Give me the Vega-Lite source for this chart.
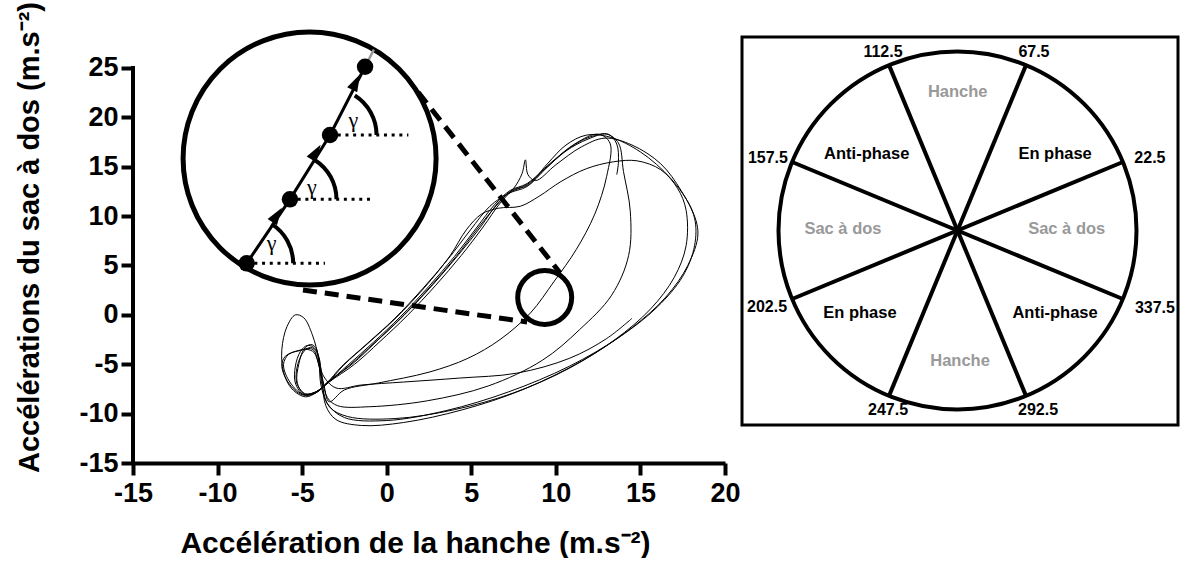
{
  "$schema": "https://vega.github.io/schema/vega-lite/v6.json",
  "padding": {"left": 15, "top": 1, "right": 0, "bottom": 0},
  "background": "white",
  "bounds": "flush",
  "spacing": 17,
  "config": {
    "view": {"stroke": null},
    "font": "Liberation Sans",
    "axis": {
      "domainColor": "black", "domainWidth": 4, "tickColor": "black", "tickWidth": 4, "tickSize": 12,
      "labelFont": "Liberation Sans", "labelFontWeight": "bold", "labelFontSize": 27, "labelColor": "black",
      "titleFont": "Liberation Sans", "titleFontWeight": "bold", "titleFontSize": 29, "titleColor": "black",
      "grid": false, "labelFlush": false, "labelOverlap": false, "labelExpr": "'' + datum.value"
    }
  },
  "datasets": {
    "traj": [
      {"i":1,"x":14.5,"y":-0.35},{"i":2,"x":13.0,"y":-2.4},{"i":3,"x":10.8,"y":-4.4},{"i":4,"x":7.7,"y":-5.9},{"i":5,"x":4.3,"y":-6.4},{"i":6,"x":1.0,"y":-6.8},{"i":7,"x":-1.5,"y":-7.1},{"i":8,"x":-3.0,"y":-7.4},
      {"i":9,"x":-3.8,"y":-6.0},{"i":10,"x":-4.0,"y":-4.3},{"i":11,"x":-4.3,"y":-3.3},{"i":12,"x":-4.7,"y":-3.1},{"i":13,"x":-5.1,"y":-3.7},{"i":14,"x":-5.4,"y":-5.2},{"i":15,"x":-5.4,"y":-6.9},{"i":16,"x":-4.9,"y":-8.1},{"i":17,"x":-4.2,"y":-7.9},
      {"i":18,"x":-3.5,"y":-6.9},{"i":19,"x":-2.3,"y":-5.1},{"i":20,"x":-0.8,"y":-2.8},{"i":21,"x":0.8,"y":-0.2},{"i":22,"x":2.5,"y":2.9},{"i":23,"x":4.0,"y":5.9},{"i":24,"x":5.3,"y":8.8},{"i":25,"x":6.4,"y":11.2},{"i":26,"x":7.3,"y":12.6},
      {"i":27,"x":8.3,"y":13.3},{"i":28,"x":9.7,"y":15.4},{"i":29,"x":11.2,"y":17.4},{"i":30,"x":12.5,"y":18.3},{"i":31,"x":13.2,"y":17.4},{"i":32,"x":13.0,"y":14.0},{"i":33,"x":12.3,"y":10.2},{"i":34,"x":11.2,"y":6.6},{"i":35,"x":9.9,"y":3.4},{"i":36,"x":8.5,"y":0.2},{"i":37,"x":6.7,"y":-2.5},{"i":38,"x":4.8,"y":-4.4},{"i":39,"x":2.5,"y":-5.8},{"i":40,"x":-0.5,"y":-6.9},{"i":41,"x":-2.5,"y":-7.6},{"i":42,"x":-3.4,"y":-8.8},
      {"i":43,"x":-3.7,"y":-7.2},{"i":44,"x":-4.0,"y":-4.5},{"i":45,"x":-4.4,"y":-2.0},{"i":46,"x":-4.9,"y":-0.3},{"i":47,"x":-5.4,"y":0.0},{"i":48,"x":-5.9,"y":-1.2},{"i":49,"x":-6.2,"y":-3.5},{"i":50,"x":-6.1,"y":-5.8},{"i":51,"x":-5.6,"y":-7.5},{"i":52,"x":-4.8,"y":-8.3},{"i":53,"x":-4.1,"y":-7.8},
      {"i":54,"x":-3.4,"y":-6.8},{"i":55,"x":-1.9,"y":-5.0},{"i":56,"x":-0.4,"y":-2.7},{"i":57,"x":1.2,"y":-0.1},{"i":58,"x":2.9,"y":3.0},{"i":59,"x":4.4,"y":6.0},{"i":60,"x":5.7,"y":8.9},{"i":61,"x":6.7,"y":11.3},{"i":62,"x":7.4,"y":12.5},
      {"i":63,"x":8.4,"y":13.2},{"i":64,"x":9.5,"y":15.3},{"i":65,"x":10.6,"y":17.2},{"i":66,"x":11.8,"y":18.2},{"i":67,"x":13.2,"y":18.0},{"i":68,"x":15.0,"y":16.5},{"i":69,"x":16.8,"y":13.8},{"i":70,"x":18.0,"y":10.8},{"i":71,"x":18.4,"y":8.2},{"i":72,"x":17.8,"y":5.0},{"i":73,"x":16.5,"y":1.8},{"i":74,"x":14.5,"y":-1.3},{"i":75,"x":11.6,"y":-4.6},{"i":76,"x":8.0,"y":-7.6},{"i":77,"x":4.5,"y":-9.6},{"i":78,"x":1.0,"y":-10.9},{"i":79,"x":-1.5,"y":-11.2},{"i":80,"x":-3.0,"y":-10.6},{"i":81,"x":-3.6,"y":-9.2},
      {"i":82,"x":-3.8,"y":-7.0},{"i":83,"x":-4.0,"y":-4.8},{"i":84,"x":-4.2,"y":-3.6},{"i":85,"x":-4.5,"y":-3.3},{"i":86,"x":-4.9,"y":-3.7},{"i":87,"x":-5.3,"y":-5.3},{"i":88,"x":-5.3,"y":-7.0},{"i":89,"x":-4.8,"y":-8.0},{"i":90,"x":-4.2,"y":-7.8},
      {"i":91,"x":-3.5,"y":-6.9},{"i":92,"x":-2.55,"y":-5.1},{"i":93,"x":-1.05,"y":-2.8},{"i":94,"x":0.55,"y":-0.3},{"i":95,"x":2.25,"y":2.8},{"i":96,"x":3.75,"y":6.0},{"i":97,"x":4.7,"y":8.6},{"i":98,"x":5.6,"y":10.2},
      {"i":99,"x":6.6,"y":10.8},{"i":100,"x":7.9,"y":11.0},{"i":101,"x":9.0,"y":12.0},{"i":102,"x":10.3,"y":13.5},{"i":103,"x":11.8,"y":14.8},{"i":104,"x":13.4,"y":15.5},{"i":105,"x":14.8,"y":15.6},{"i":106,"x":16.2,"y":14.7},{"i":107,"x":17.2,"y":12.8},{"i":108,"x":17.7,"y":10.6},{"i":109,"x":17.7,"y":7.0},{"i":110,"x":17.0,"y":3.8},{"i":111,"x":15.6,"y":0.6},{"i":112,"x":13.5,"y":-2.5},{"i":113,"x":10.8,"y":-5.4},{"i":114,"x":7.5,"y":-7.9},{"i":115,"x":4.0,"y":-9.6},{"i":116,"x":0.5,"y":-10.5},{"i":117,"x":-2.3,"y":-10.3},{"i":118,"x":-3.4,"y":-9.3},
      {"i":119,"x":-3.8,"y":-7.3},{"i":120,"x":-4.0,"y":-5.2},{"i":121,"x":-4.3,"y":-3.8},{"i":122,"x":-4.7,"y":-3.5},{"i":123,"x":-5.2,"y":-3.6},{"i":124,"x":-6.0,"y":-4.2},{"i":125,"x":-6.2,"y":-5.2},{"i":126,"x":-5.8,"y":-6.9},{"i":127,"x":-5.0,"y":-8.1},{"i":128,"x":-4.2,"y":-7.9},
      {"i":129,"x":-3.5,"y":-6.8},{"i":130,"x":-2.05,"y":-5.0},{"i":131,"x":-0.55,"y":-2.6},{"i":132,"x":1.05,"y":0.0},{"i":133,"x":2.75,"y":3.1},{"i":134,"x":4.25,"y":6.1},{"i":135,"x":5.55,"y":8.9},{"i":136,"x":6.6,"y":11.4},{"i":137,"x":7.5,"y":12.8},
      {"i":138,"x":8.0,"y":14.3},{"i":139,"x":8.2,"y":15.7},{"i":140,"x":8.35,"y":14.2},{"i":141,"x":8.8,"y":13.6},{"i":142,"x":10.0,"y":15.2},{"i":143,"x":11.5,"y":17.0},{"i":144,"x":12.9,"y":17.9},{"i":145,"x":14.5,"y":17.2},{"i":146,"x":16.2,"y":15.3},{"i":147,"x":17.4,"y":12.6},{"i":148,"x":18.2,"y":9.8},{"i":149,"x":18.2,"y":7.0},{"i":150,"x":17.5,"y":3.9},{"i":151,"x":16.0,"y":0.8},{"i":152,"x":13.8,"y":-2.2},{"i":153,"x":10.8,"y":-5.2},{"i":154,"x":7.2,"y":-7.8},{"i":155,"x":3.5,"y":-9.7},{"i":156,"x":0.0,"y":-10.7},{"i":157,"x":-2.5,"y":-10.4},{"i":158,"x":-3.5,"y":-9.0},
      {"i":159,"x":-3.9,"y":-7.0},{"i":160,"x":-4.0,"y":-4.8},{"i":161,"x":-4.2,"y":-3.3},{"i":162,"x":-4.5,"y":-3.0},{"i":163,"x":-4.9,"y":-3.5},{"i":164,"x":-5.2,"y":-5.0},{"i":165,"x":-5.3,"y":-6.8},{"i":166,"x":-4.9,"y":-8.0},{"i":167,"x":-4.3,"y":-7.9},
      {"i":168,"x":-3.6,"y":-7.0},{"i":169,"x":-2.65,"y":-5.2},{"i":170,"x":-1.15,"y":-2.9},{"i":171,"x":0.45,"y":-0.4},{"i":172,"x":2.15,"y":2.7},{"i":173,"x":3.65,"y":5.7},{"i":174,"x":4.95,"y":8.6},{"i":175,"x":6.1,"y":11.0},{"i":176,"x":7.2,"y":12.3},
      {"i":177,"x":8.3,"y":13.0},{"i":178,"x":9.4,"y":14.8},{"i":179,"x":10.6,"y":16.6},{"i":180,"x":11.9,"y":17.8},{"i":181,"x":13.0,"y":18.3},{"i":182,"x":13.7,"y":17.4},{"i":183,"x":14.0,"y":14.5},{"i":184,"x":14.4,"y":10.5},{"i":185,"x":14.3,"y":6.0},{"i":186,"x":13.3,"y":2.0},{"i":187,"x":11.4,"y":-1.5},{"i":188,"x":9.2,"y":-4.6},{"i":189,"x":6.0,"y":-7.2},{"i":190,"x":2.4,"y":-8.7},{"i":191,"x":-1.0,"y":-9.3},{"i":192,"x":-2.9,"y":-9.2},{"i":193,"x":-3.5,"y":-8.4},
      {"i":194,"x":-3.8,"y":-6.6},{"i":195,"x":-4.1,"y":-4.5},{"i":196,"x":-4.3,"y":-3.6},{"i":197,"x":-4.6,"y":-3.4},{"i":198,"x":-5.1,"y":-3.6},{"i":199,"x":-5.8,"y":-4.0},{"i":200,"x":-6.1,"y":-5.0},{"i":201,"x":-5.8,"y":-6.6},{"i":202,"x":-5.0,"y":-8.0},{"i":203,"x":-4.2,"y":-7.8},
      {"i":204,"x":-3.5,"y":-6.9},{"i":205,"x":-2.2,"y":-5.1},{"i":206,"x":-0.7,"y":-2.8},{"i":207,"x":0.9,"y":-0.2},{"i":208,"x":2.6,"y":2.9},{"i":209,"x":4.1,"y":5.9},{"i":210,"x":5.4,"y":8.8},{"i":211,"x":6.5,"y":11.1},{"i":212,"x":7.3,"y":12.5},
      {"i":213,"x":8.3,"y":13.2},{"i":214,"x":9.5,"y":15.0},{"i":215,"x":10.8,"y":16.9},{"i":216,"x":12.0,"y":18.0},{"i":217,"x":13.1,"y":18.3},{"i":218,"x":13.6,"y":17.3},{"i":219,"x":13.7,"y":15.5},{"i":220,"x":13.6,"y":14.2}
    ],
    "yline": [{"x": -15, "y": -15, "y2": 25}],
    "zoomlines": [{"x": 1.85, "y": 22.57, "x2": 10.25, "y2": 4.24}, {"x": -4.95, "y": 2.52, "x2": 8.3, "y2": -0.72}],
    "bigc": [{"x": -4.56, "y": 15.84}],
    "smallc": [{"x": 9.34, "y": 1.76}],
    "ray": [{"x": -1.28, "y": 25.13, "x2": -0.76, "y2": 26.86}],
    "dots": [{"k": 1, "x": -8.28, "y": 5.22}, {"k": 2, "x": -5.72, "y": 11.7}, {"k": 3, "x": -3.35, "y": 18.22}, {"k": 4, "x": -1.28, "y": 25.13}],
    "arrows": [{"k": 1, "x": -6.48, "y": 10.11}, {"k": 2, "x": -4.18, "y": 16.49}, {"k": 3, "x": -1.81, "y": 23.58}],
    "hlines": [{"x": -8.28, "x2": -3.65, "y": 5.22}, {"x": -5.72, "x2": -0.98, "y": 11.7}, {"x": -3.35, "x2": 1.28, "y": 18.22}],
    "gammas": [{"x": -6.8, "y": 7.25, "t": "γ"}, {"x": -4.43, "y": 12.98, "t": "γ"}, {"x": -1.97, "y": 19.73, "t": "γ"}],
    "ring": [{"x": 0, "y": 0}],
    "spokes": [
      {"x": 0.92388, "y": 0.38268, "x2": -0.92388, "y2": -0.38268},
      {"x": 0.38268, "y": 0.92388, "x2": -0.38268, "y2": -0.92388},
      {"x": -0.38268, "y": 0.92388, "x2": 0.38268, "y2": -0.92388},
      {"x": -0.92388, "y": 0.38268, "x2": 0.92388, "y2": -0.38268}
    ],
    "angles": [
      {"x": 1.075, "y": 0.405, "label": "22.5"},
      {"x": 0.427, "y": 0.999, "label": "67.5"},
      {"x": -0.416, "y": 0.999, "label": "112.5"},
      {"x": -1.059, "y": 0.405, "label": "157.5"},
      {"x": -1.064, "y": -0.427, "label": "202.5"},
      {"x": -0.388, "y": -1.003, "label": "247.5"},
      {"x": 0.45, "y": -1.003, "label": "292.5"},
      {"x": 1.103, "y": -0.433, "label": "337.5"}
    ],
    "sectors": [
      {"x": 0.001, "y": 0.772, "label": "Hanche", "kind": "segment"},
      {"x": 0.545, "y": 0.427, "label": "En phase", "kind": "phase"},
      {"x": -0.507, "y": 0.427, "label": "Anti-phase", "kind": "phase"},
      {"x": -0.64, "y": 0.008, "label": "Sac à dos", "kind": "segment"},
      {"x": 0.61, "y": 0.008, "label": "Sac à dos", "kind": "segment"},
      {"x": -0.545, "y": -0.461, "label": "En phase", "kind": "phase"},
      {"x": 0.545, "y": -0.461, "label": "Anti-phase", "kind": "phase"},
      {"x": 0.014, "y": -0.729, "label": "Hanche", "kind": "segment"}
    ]
  },
  "hconcat": [
    {
      "width": 592,
      "height": 426,
      "layer": [
        {
          "data": {"name": "yline"},
          "mark": {"type": "rule", "color": "black", "strokeWidth": 4, "strokeCap": "square"},
          "encoding": {
            "x": {"field": "x", "type": "quantitative", "scale": {"domain": [-15, 20], "nice": false, "zero": false},
                  "axis": {"values": [-15, -10, -5, 0, 5, 10, 15, 20], "title": "Accélération de la hanche (m.s⁻²)", "titleFontSize": 30, "labelPadding": 5, "titlePadding": 22, "titleX": 282}},
            "y": {"field": "y", "type": "quantitative", "scale": {"domain": [-15, 28.139], "nice": false, "zero": false},
                  "axis": {"values": [-15, -10, -5, 0, 5, 10, 15, 20, 25], "domain": false, "title": "Accélérations du sac à dos (m.s⁻²)", "labelPadding": 3, "titlePadding": 34, "titleY": 200}},
            "y2": {"field": "y2"}
          }
        },
        {
          "data": {"name": "traj"},
          "mark": {"type": "line", "color": "black", "strokeWidth": 1, "interpolate": "catmull-rom"},
          "encoding": {
            "x": {"field": "x", "type": "quantitative"},
            "y": {"field": "y", "type": "quantitative"},
            "order": {"field": "i", "type": "quantitative"}
          }
        },
        {
          "data": {"name": "zoomlines"},
          "mark": {"type": "rule", "color": "black", "strokeWidth": 5, "strokeDash": [14, 8]},
          "encoding": {
            "x": {"field": "x", "type": "quantitative"},
            "y": {"field": "y", "type": "quantitative"},
            "x2": {"field": "x2"},
            "y2": {"field": "y2"}
          }
        },
        {
          "data": {"name": "bigc"},
          "mark": {"type": "point", "shape": "circle", "size": 64009, "filled": true, "fill": "white", "stroke": "black", "strokeWidth": 5, "opacity": 1},
          "encoding": {"x": {"field": "x", "type": "quantitative"}, "y": {"field": "y", "type": "quantitative"}}
        },
        {
          "data": {"name": "smallc"},
          "mark": {"type": "point", "shape": "circle", "size": 2916, "filled": false, "stroke": "black", "strokeWidth": 5, "opacity": 1},
          "encoding": {"x": {"field": "x", "type": "quantitative"}, "y": {"field": "y", "type": "quantitative"}}
        },
        {
          "data": {"name": "ray"},
          "mark": {"type": "rule", "color": "#999999", "strokeWidth": 2.5},
          "encoding": {
            "x": {"field": "x", "type": "quantitative"},
            "y": {"field": "y", "type": "quantitative"},
            "x2": {"field": "x2"},
            "y2": {"field": "y2"}
          }
        },
        {
          "data": {"name": "dots"},
          "mark": {"type": "line", "color": "black", "strokeWidth": 3},
          "encoding": {
            "x": {"field": "x", "type": "quantitative"},
            "y": {"field": "y", "type": "quantitative"},
            "order": {"field": "k", "type": "quantitative"}
          }
        },
        {
          "data": {"name": "hlines"},
          "mark": {"type": "rule", "color": "black", "strokeWidth": 3, "strokeDash": [3, 4.7]},
          "encoding": {
            "x": {"field": "x", "type": "quantitative"},
            "y": {"field": "y", "type": "quantitative"},
            "x2": {"field": "x2"}
          }
        },
        {
          "data": {"name": "arrows"},
          "transform": [{"filter": "datum.k == 1"}],
          "mark": {"type": "point", "shape": "M0,-1L0.65,1L-0.65,1Z", "size": 300, "filled": true, "color": "black", "opacity": 1, "angle": 34},
          "encoding": {"x": {"field": "x", "type": "quantitative"}, "y": {"field": "y", "type": "quantitative"}}
        },
        {
          "data": {"name": "arrows"},
          "transform": [{"filter": "datum.k == 2"}],
          "mark": {"type": "point", "shape": "M0,-1L0.65,1L-0.65,1Z", "size": 300, "filled": true, "color": "black", "opacity": 1, "angle": 32},
          "encoding": {"x": {"field": "x", "type": "quantitative"}, "y": {"field": "y", "type": "quantitative"}}
        },
        {
          "data": {"name": "arrows"},
          "transform": [{"filter": "datum.k == 3"}],
          "mark": {"type": "point", "shape": "M0,-1L0.65,1L-0.65,1Z", "size": 300, "filled": true, "color": "black", "opacity": 1, "angle": 27},
          "encoding": {"x": {"field": "x", "type": "quantitative"}, "y": {"field": "y", "type": "quantitative"}}
        },
        {
          "data": {"name": "dots"},
          "mark": {"type": "point", "shape": "circle", "size": 270, "filled": true, "color": "black", "opacity": 1},
          "encoding": {"x": {"field": "x", "type": "quantitative"}, "y": {"field": "y", "type": "quantitative"}}
        },
        {
          "data": {"name": "dots"},
          "transform": [{"filter": "datum.k < 4"}],
          "mark": {"type": "arc", "theta": 0.56, "theta2": 1.5708, "innerRadius": 44.5, "outerRadius": 48.5, "color": "black"},
          "encoding": {"x": {"field": "x", "type": "quantitative"}, "y": {"field": "y", "type": "quantitative"}}
        },
        {
          "data": {"name": "gammas"},
          "mark": {"type": "text", "font": "Liberation Serif", "fontSize": 22, "color": "black"},
          "encoding": {
            "x": {"field": "x", "type": "quantitative"},
            "y": {"field": "y", "type": "quantitative"},
            "text": {"field": "t"}
          }
        }
      ]
    },
    {
      "width": 436,
      "height": 388,
      "view": {"stroke": "black", "strokeWidth": 3},
      "layer": [
        {
          "data": {"name": "ring"},
          "mark": {"type": "point", "shape": "circle", "size": 128164, "filled": false, "stroke": "black", "strokeWidth": 4, "opacity": 1},
          "encoding": {
            "x": {"field": "x", "type": "quantitative", "scale": {"domain": [-1.2039, 1.2318], "nice": false, "zero": false}, "axis": null},
            "y": {"field": "y", "type": "quantitative", "scale": {"domain": [-1.0866, 1.081], "nice": false, "zero": false}, "axis": null}
          }
        },
        {
          "data": {"name": "spokes"},
          "mark": {"type": "rule", "color": "black", "strokeWidth": 4},
          "encoding": {
            "x": {"field": "x", "type": "quantitative"},
            "y": {"field": "y", "type": "quantitative"},
            "x2": {"field": "x2"},
            "y2": {"field": "y2"}
          }
        },
        {
          "data": {"name": "angles"},
          "mark": {"type": "text", "font": "Liberation Sans", "fontWeight": "bold", "fontSize": 16, "color": "black"},
          "encoding": {
            "x": {"field": "x", "type": "quantitative"},
            "y": {"field": "y", "type": "quantitative"},
            "text": {"field": "label"}
          }
        },
        {
          "data": {"name": "sectors"},
          "mark": {"type": "text", "font": "Liberation Sans", "fontWeight": "bold", "fontSize": 16.5},
          "encoding": {
            "x": {"field": "x", "type": "quantitative"},
            "y": {"field": "y", "type": "quantitative"},
            "text": {"field": "label"},
            "color": {"field": "kind", "type": "nominal", "scale": {"domain": ["phase", "segment"], "range": ["#000000", "#999999"]}, "legend": null}
          }
        }
      ]
    }
  ]
}
